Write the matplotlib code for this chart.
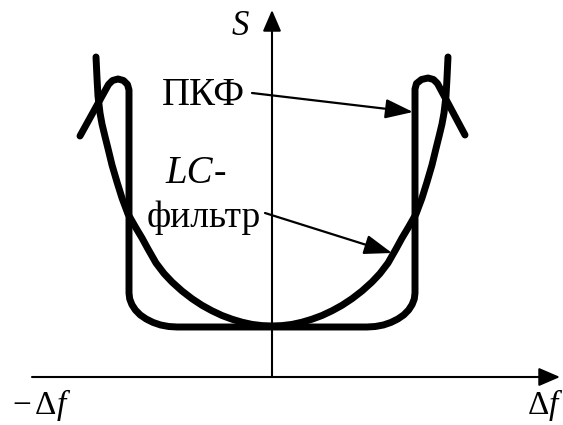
import matplotlib
matplotlib.use('Agg')
import matplotlib.pyplot as plt

plt.rcParams['font.family'] = ['Liberation Serif', 'DejaVu Serif']
plt.rcParams['mathtext.fontset'] = 'custom'
plt.rcParams['mathtext.rm'] = 'Liberation Serif'
plt.rcParams['mathtext.it'] = 'Liberation Serif:italic'

# LC-filter selectivity curve (frequency offset, S)
lc_x = [-176, -175, -174, -172, -170, -167, -164, -160, -155, -150, -144, -136, -130, -124, -116,
        -108, -100, -90, -80, -70, -60, -50, -40, -30, -20, -10, 0,
        10, 20, 30, 40, 50, 60, 70, 80, 90, 100, 108, 116, 124, 130, 136, 144, 150, 155, 160,
        164, 167, 170, 172, 174, 175, 176]
lc_s = [320, 299, 281, 264, 253, 240.5, 228.5, 212, 195, 179, 163, 149, 139, 128, 114,
        103.5, 95, 86, 78.3, 71.7, 66.2, 61.5, 57.8, 54.8, 52.6, 51.4, 51,
        51.4, 52.6, 54.8, 57.8, 61.5, 66.2, 71.7, 78.3, 86, 95, 103.5, 114, 128, 139, 149, 163, 179, 195, 212,
        228.5, 240.5, 253, 264, 281, 299, 320]

# PKF (piezo-ceramic filter) selectivity curve
pkf_x = [-192, -163.5, -159.5, -154, -148.5, -144.5, -143, -143, -142.3, -140.1, -136.6, -131.8,
         -125.8, -119, -111.4, -103.3, -95,
         95, 103.3, 111.4, 119, 125.8, 131.8, 136.6, 140.1, 142.3, 143, 143, 144.5, 149.5, 156,
         161.5, 165.5, 193]
pkf_s = [241, 292.5, 296.5, 298, 296.5, 292.5, 287, 84, 78.1, 72.4, 67, 62.1,
         58, 54.6, 52, 50.5, 50,
         50, 50.5, 52, 54.6, 58, 62.1, 67, 72.4, 78.1, 84, 288, 293.5, 297.5, 299,
         297.5, 293.5, 242]

x_axis = (-240, 288)
y_axis_top = 367

fig = plt.figure(figsize=(5.63, 4.25), dpi=100)
ax = fig.add_axes([0, 0, 1, 1])
ax.set_xlim(-272, 291)
ax.set_ylim(-48, 377)
ax.axis('off')

ax_arrow = dict(arrowstyle='-|>,head_length=0.65,head_width=0.28', lw=1.5, color='black',
                shrinkA=0, shrinkB=0, mutation_scale=20)
ax.annotate('', xy=(x_axis[1], 0), xytext=(x_axis[0], 0), arrowprops=ax_arrow)
ax.annotate('', xy=(0, y_axis_top), xytext=(0, 0), arrowprops=ax_arrow)

lw = 5
ax.plot(lc_x, lc_s, color='black', lw=lw, solid_capstyle='round', solid_joinstyle='round')
ax.plot(pkf_x, pkf_s, color='black', lw=lw, solid_capstyle='round', solid_joinstyle='round')

ptr = dict(arrowstyle='-|>,head_length=0.85,head_width=0.3', lw=1.6, color='black',
           shrinkA=0, shrinkB=0, mutation_scale=20)
ax.annotate('', xy=(141, 265), xytext=(-20, 284), arrowprops=ptr)
ax.annotate('', xy=(120, 124), xytext=(-7, 164), arrowprops=ptr)

fs = 27
ax.text(-40, 342, 'S', style='italic', fontsize=25, va='baseline', ha='left')
ax.text(-110, 272, 'ПКФ', fontsize=28, va='baseline', ha='left')
ax.text(-107, 194, 'LC', style='italic', fontsize=28, va='baseline', ha='left')
ax.text(-58, 194, '-', fontsize=fs, va='baseline', ha='left')
ax.text(-125, 150, 'фильтр', fontsize=fs, va='baseline', ha='left')
ax.text(-260, -37, r'$-\,\Delta f$', fontsize=24, va='baseline', ha='left')
ax.text(255, -37, r'$\Delta f$', fontsize=24, va='baseline', ha='left')

fig.savefig('out.png', dpi=100)
